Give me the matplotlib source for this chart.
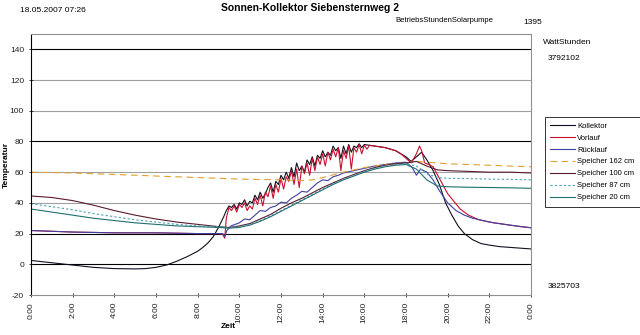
import matplotlib
matplotlib.use("Agg")
import matplotlib.pyplot as plt
from matplotlib.ticker import FixedLocator

plt.rcParams["font.family"] = ["Liberation Sans", "DejaVu Sans"]
plt.rcParams.update({'font.size': 6, 'axes.unicode_minus': False})

# time in hours, values in degC
koll_t = [0, 1, 2, 3, 4, 5, 5.5, 6, 6.5, 7, 7.5, 8, 8.25, 8.5, 8.75, 9.0, 9.25, 9.375,
          9.5, 9.625, 9.75, 9.875, 10.0, 10.125, 10.25, 10.375, 10.5, 10.625, 10.75, 10.875,
          11.0, 11.125, 11.25, 11.375, 11.5, 11.625, 11.75, 11.875, 12.0, 12.125, 12.25, 12.375,
          12.5, 12.625, 12.75, 12.875, 13.0, 13.125, 13.25, 13.375, 13.5, 13.625, 13.75, 13.875,
          14.0, 14.125, 14.25, 14.375, 14.5, 14.625, 14.75, 14.875, 15.0, 15.125, 15.25, 15.375,
          15.5, 15.625, 15.75, 15.875, 16.0, 16.25, 16.5, 17.0, 17.5, 18.0, 18.25, 18.5, 18.75,
          19.0, 19.3, 19.6, 19.9, 20.2, 20.5, 20.8, 21.2, 21.6, 22.0, 22.5, 23.0, 23.5, 24.0]
koll = [2.5, 1, -0.5, -2, -2.8, -3, -2.8, -2, -0.5, 2, 5, 8.5, 11, 14, 18, 24, 31, 35,
        38, 37, 39, 36, 40, 39, 42, 38, 41, 40, 45, 42,
        47, 43, 46, 50, 53, 47, 54, 52, 58, 55, 60, 56,
        63, 57, 66, 61, 64, 60, 68, 65, 70, 64, 71, 69,
        74, 70, 73, 71, 77, 74, 76, 69, 77, 72, 78, 73,
        77, 76, 78.5, 76, 78, 77.5, 77, 76, 74, 70, 67, 70, 73,
        68, 61, 52, 40, 32, 25, 20, 16, 13.5, 12.5, 11.5, 11, 10.5, 10]

vorl_t = [0, 1, 2, 4, 6, 8, 9.0, 9.2, 9.3, 9.375,
          9.5, 9.625, 9.75, 9.875, 10.0, 10.125, 10.25, 10.375, 10.5, 10.625, 10.75, 10.875,
          11.0, 11.125, 11.25, 11.375, 11.5, 11.625, 11.75, 11.875, 12.0, 12.125, 12.25, 12.375,
          12.5, 12.625, 12.75, 12.875, 13.0, 13.125, 13.25, 13.375, 13.5, 13.625, 13.75, 13.875,
          14.0, 14.125, 14.25, 14.375, 14.5, 14.625, 14.75, 14.875, 15.0, 15.125, 15.25, 15.375,
          15.5, 15.625, 15.75, 15.875, 16.0, 16.125, 16.25, 16.5, 17.0, 17.5, 17.75, 18.0, 18.25,
          18.5, 18.65, 18.75, 18.9, 19.1, 19.3, 19.6, 20.0, 20.3, 20.6, 21.0, 21.5, 22.0, 22.5,
          23.0, 23.5, 24.0]
vorl = [22, 21.5, 21, 20.5, 20.5, 20, 20, 19.5, 17, 30,
        37, 35, 38, 34, 39, 37, 40, 35, 38, 36, 43, 39,
        45, 38, 47, 44, 51, 43, 52, 47, 56, 49, 57, 54,
        61, 52, 62, 50, 64, 59, 66, 58, 69, 61, 70, 65,
        72, 64, 73, 68, 75, 70, 76, 61, 74, 69, 77, 62,
        76, 73, 78, 72, 77.5, 75, 77.5, 77, 76, 74, 72, 69, 66,
        72, 77, 74, 66, 65, 63.5, 56, 46, 41, 36, 32, 29, 27.5, 26.5,
        25.5, 24.5, 23.8]

rueck_t = [0, 1, 2, 4, 6, 8, 9.2, 9.3, 9.4, 9.6, 9.8, 10, 10.25, 10.5, 10.75, 11, 11.25,
           11.5, 11.75, 12, 12.25, 12.5, 12.75, 13, 13.25, 13.5, 13.75, 14, 14.25, 14.5, 14.75,
           15, 15.5, 16, 16.5, 17, 17.5, 18, 18.3, 18.5, 18.7, 19.0, 19.3, 19.6, 20.0, 20.4,
           20.8, 21.2, 21.7, 22.2, 23, 24]
rueck = [22, 21.5, 21, 20.5, 20.5, 20, 20, 18, 22, 25, 26, 27, 29.5, 29, 32, 35, 34.5,
         37, 38, 40.5, 40, 43, 45, 47.5, 47, 50, 53, 55, 54.5, 57, 58,
         59.5, 61, 62.5, 64, 65, 66, 66.5, 63, 58, 62, 60, 55, 48, 40, 35,
         32, 30, 28.5, 27, 25.5, 23.8]

sp_t = [0, 1, 2, 3, 4, 5, 6, 7, 8, 9, 9.5, 10, 10.5, 11, 11.5, 12, 12.5, 13, 13.5, 14,
        14.5, 15, 15.5, 16, 16.5, 17, 17.5, 18, 18.5, 19, 19.5, 20, 21, 22, 23, 24]
sp100 = [44.5, 43.5, 41.5, 38.5, 35, 32, 29.5, 27.5, 26, 24.5, 24, 25, 26.5, 29.5, 32.5, 36.5,
         40, 43, 46.5, 50, 53, 56, 58.5, 61, 63, 64.5, 65.5, 66, 67, 64, 61.5, 61, 60.5, 60, 60, 59.5]
sp87 = [39.5, 37.5, 35.5, 33, 31, 29, 27.5, 26, 25, 24.5, 24, 24.5, 26, 28.5, 31.5, 35,
        38.5, 42, 45.5, 49, 52.5, 55.5, 58, 60.5, 62.5, 64, 65, 65.5, 64, 59, 56.5, 56, 55.8, 55.5, 55.3, 55]
sp20 = [36, 34, 32, 30, 28.5, 27, 26, 25, 24.5, 24, 23.5, 24, 25.5, 28, 31, 34.5,
        38, 41.5, 45, 48.5, 52, 55, 57.5, 60, 62, 63.5, 64.5, 65, 62, 55, 51, 50.5, 50.2, 50, 49.8, 49.5]

sp162_t = [0, 2, 4, 6, 8, 10, 12, 13, 13.5, 14, 15, 16, 17, 18, 18.5, 19, 20, 22, 24]
sp162 = [60, 59.5, 58.5, 57.5, 56.5, 55.5, 55, 54.5, 55, 56.5, 60, 63, 65, 66, 67, 66.5, 65.5, 64.5, 63.5]

tick_hours = list(range(0, 25, 2))
tick_labels = ["%d:00" % (h % 24) for h in tick_hours]

fig = plt.figure(figsize=(6.4, 3.35), dpi=100)
ax = fig.add_axes([31 / 640, 1 - 295 / 335, 500 / 640, 261 / 335])

lw = 0.8
ax.plot(koll_t, koll, color='#101020', lw=lw, label='Kollektor')
ax.plot(vorl_t, vorl, color='#c8102e', lw=lw, label='Vorlauf')
ax.plot(rueck_t, rueck, color='#4040a0', lw=lw, label='Rücklauf')
ax.plot(sp162_t, sp162, color='#e0a030', lw=lw, ls=(0, (6, 4)), label='Speicher 162 cm')
ax.plot(sp_t, sp100, color='#5a1a30', lw=lw, label='Speicher 100 cm')
ax.plot(sp_t, sp87, color='#4aa0b8', lw=lw, ls=(0, (2, 2)), label='Speicher 87 cm')
ax.plot(sp_t, sp20, color='#207070', lw=lw, label='Speicher 20 cm')

ax.set_xlim(0, 24)
ax.set_ylim(-20, 150)
ax.yaxis.set_major_locator(FixedLocator(range(-20, 141, 20)))
ax.set_xticks(tick_hours)
ax.set_xticklabels(tick_labels, rotation=90)
ax.tick_params(axis='both', length=3, width=0.6, direction='inout', colors='#202020', labelsize=6)

# horizontal gridlines, some darker than others as in the original
for yv in range(0, 141, 20):
    c = '#000000' if yv in (0, 20, 80, 140) else '#a0a0a0'
    ax.axhline(yv, color=c, lw=0.8, zorder=0)

for s in ['top', 'right', 'bottom']:
    ax.spines[s].set_color('#909090')
    ax.spines[s].set_linewidth(0.8)
ax.spines['left'].set_color('#000000')
ax.spines['left'].set_linewidth(0.8)

fig.text(6 / 640, 1 - 165 / 335, 'Temperatur', rotation=90, ha='center', va='center',
         fontsize=6, fontweight='bold')
fig.text(228 / 640, 1 - 327 / 335, 'Zeit', ha='center', va='center', fontsize=6, fontweight='bold')

fig.text(310 / 640, 1 - 8 / 335, 'Sonnen-Kollektor Siebensternweg 2', ha='center', va='center',
         fontsize=7.5, fontweight='bold')
fig.text(20 / 640, 1 - 10 / 335, '18.05.2007 07:26', ha='left', va='center', fontsize=6)
fig.text(395 / 640, 1 - 21 / 335, 'BetriebsStundenSolarpumpe', ha='left', va='center', fontsize=5.5)
fig.text(523 / 640, 1 - 22 / 335, '1395', ha='left', va='center', fontsize=6)
fig.text(543 / 640, 1 - 42 / 335, 'WattStunden', ha='left', va='center', fontsize=6)
fig.text(548 / 640, 1 - 59 / 335, '3792102', ha='left', va='center', fontsize=6)
fig.text(548 / 640, 1 - 287 / 335, '3825703', ha='left', va='center', fontsize=6)

leg = fig.legend(loc='upper left', bbox_to_anchor=(545 / 640, 1 - 117 / 335), fontsize=5.5,
                 frameon=True, fancybox=False, handlelength=3.2, handletextpad=0.3,
                 labelspacing=0.6, borderpad=0.7, borderaxespad=0)
leg.get_frame().set_edgecolor('#000000')
leg.get_frame().set_linewidth(0.7)

fig.savefig('out.png', dpi=100)
